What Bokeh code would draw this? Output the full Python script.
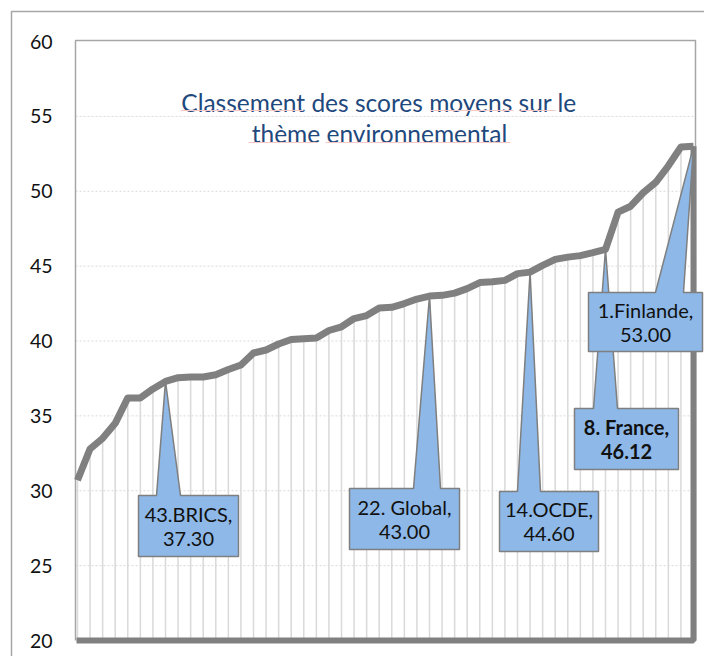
from bokeh.plotting import figure
from bokeh.models import Range1d, FixedTicker
from bokeh.core.properties import value
from bokeh.embed import file_html
from bokeh.resources import INLINE

# ---------------- data ----------------
ranks = list(range(50, 0, -1))
scores = [30.7, 32.8, 33.5, 34.5, 36.2, 36.2, 36.8, 37.3, 37.55, 37.6,
          37.6, 37.75, 38.1, 38.4, 39.2, 39.4, 39.8, 40.1, 40.15, 40.2,
          40.7, 40.95, 41.5, 41.7, 42.2, 42.25, 42.5, 42.8, 43.0, 43.05,
          43.2, 43.5, 43.9, 43.95, 44.05, 44.5, 44.6, 45.05, 45.45, 45.6,
          45.7, 45.9, 46.12, 48.6, 49.0, 49.9, 50.6, 51.7, 52.95, 53.0]
callout_ranks = [43, 22, 14, 8, 1]
callout_names = ["43.BRICS,", "22. Global,", "14.OCDE,", "8. France,", "1.Finlande,"]
callout_values = ["37.30", "43.00", "44.60", "46.12", "53.00"]
callout_bold = [False, False, False, True, False]
y_ticks = [20, 25, 30, 35, 40, 45, 50, 55, 60]
grid_values = [25, 30, 35, 40, 45, 50, 55]
title_lines = ["Classement des scores moyens sur le", "thème environnemental"]

# ---------------- geometry (picture pixels) ----------------
W, H = 704, 656
PX_I = 616 / 49          # px per category
PY_V = 14.975            # px per score unit
X0 = 77                  # x of first category
Y20 = 640                # y of value 20
FR_L, FR_R, FR_T, FR_B = 72, W, 18, H

def dx(px):
    return (px - X0) / PX_I

def dy(py):
    return 20 + (Y20 - py) / PY_V

p = figure(width=W, height=H, output_backend="svg", toolbar_location=None,
           x_axis_location=None,
           x_range=Range1d(dx(FR_L), dx(FR_R)),
           y_range=Range1d(dy(FR_B), dy(FR_T)),
           min_border_left=FR_L, min_border_right=0,
           min_border_top=FR_T, min_border_bottom=0)
p.outline_line_color = None
p.xgrid.visible = False
p.ygrid.visible = False
p.background_fill_color = "white"
p.border_fill_color = "white"

ax = p.yaxis[0]
ax.ticker = FixedTicker(ticks=y_ticks)
ax.axis_line_color = None
ax.major_tick_line_color = None
ax.minor_tick_line_color = None
ax.major_tick_out = 0
ax.major_tick_in = 0
ax.major_label_standoff = 20
ax.major_label_text_font = "Lato"
ax.major_label_text_font_size = "19.5px"
ax.major_label_text_color = "#111111"

xs = list(range(len(scores)))
xl, xr, yt = dx(75), dx(695), dy(40)

# gridlines
p.segment(x0=[xl] * len(grid_values), y0=grid_values,
          x1=[xr] * len(grid_values), y1=grid_values,
          line_color="#D9D9D9", line_width=1, line_dash="2 2")
# drop lines
p.segment(x0=xs, y0=[20] * len(xs), x1=xs, y1=scores,
          line_color="#D9D9D9", line_width=1.5)
# plot area border
p.line([xl, xl, xr, xr], [20, yt, yt, 20], line_color="#A6A6A6", line_width=1.5)
# thick bottom / right edge
p.line([xs[0] - 0.08, xs[-1], xs[-1]], [20, 20, scores[-1]],
       line_color="#808080", line_width=6)
# series line
p.line(xs, scores, line_color="#808080", line_width=7, line_join="round")

# outer chart border
ob = p.line([dx(11), dx(11), dx(FR_R)], [dy(FR_B), dy(11), dy(11)],
            line_color="#A6A6A6", line_width=1.5)
ob.level = "overlay"

# callouts: box (L, R, T, B) and pointer base (b0, b1) in picture px
boxes = [(138, 238, 495, 556, 156, 180),
         (349, 459, 488, 549, 413, 440),
         (499, 598, 491, 551, 517, 540),
         (574, 678, 408, 469, 593, 617),
         (588, 702, 292, 351, 655, 683)]
pxs, pys = [], []
tx, ty1, ty2 = [], [], []
for r, (L, R, T, B, b0, b1) in zip(callout_ranks, boxes):
    i = ranks.index(r)
    pxs.append([dx(L), dx(b0), i, dx(b1), dx(R), dx(R), dx(L)])
    pys.append([dy(T), dy(T), scores[i], dy(T), dy(T), dy(B), dy(B)])
    cx, cy = (L + R) / 2, (T + B) / 2
    tx.append(dx(cx))
    ty1.append(dy(cy - 12.5))
    ty2.append(dy(cy + 12.5))
cr = p.patches(pxs, pys, fill_color="#8DB8E8", line_color="#7F7F7F", line_width=1.5)
cr.level = "overlay"

for k in range(len(callout_ranks)):
    style = "bold" if callout_bold[k] else "normal"
    for yy, txt in ((ty1[k], callout_names[k]), (ty2[k], callout_values[k])):
        t = p.text(x=[tx[k]], y=[yy], text=[txt], text_font=value("Lato"),
                   text_font_size="20px", text_font_style=style,
                   text_color="#111111", text_align="center", text_baseline="middle")
        t.level = "overlay"

# title
p.text(x=[dx(378.5), dx(379)], y=[dy(102), dy(133)], text=title_lines,
       text_font=value("Lato"), text_font_size="24.5px", text_color="#1F497D",
       text_align="center", text_baseline="middle")
# spell-check underlines under title words (x0, x1, y)
ul = [(180, 303, 110), (430, 513, 110), (520, 555, 110),
      (248, 317, 142), (325, 510, 142)]
p.segment(x0=[dx(a) for a, b, c in ul], y0=[dy(c) for a, b, c in ul],
          x1=[dx(b) for a, b, c in ul], y1=[dy(c) for a, b, c in ul],
          line_color="#F7C6C6", line_width=1)

open("out.html", "w").write(file_html(p, INLINE))
